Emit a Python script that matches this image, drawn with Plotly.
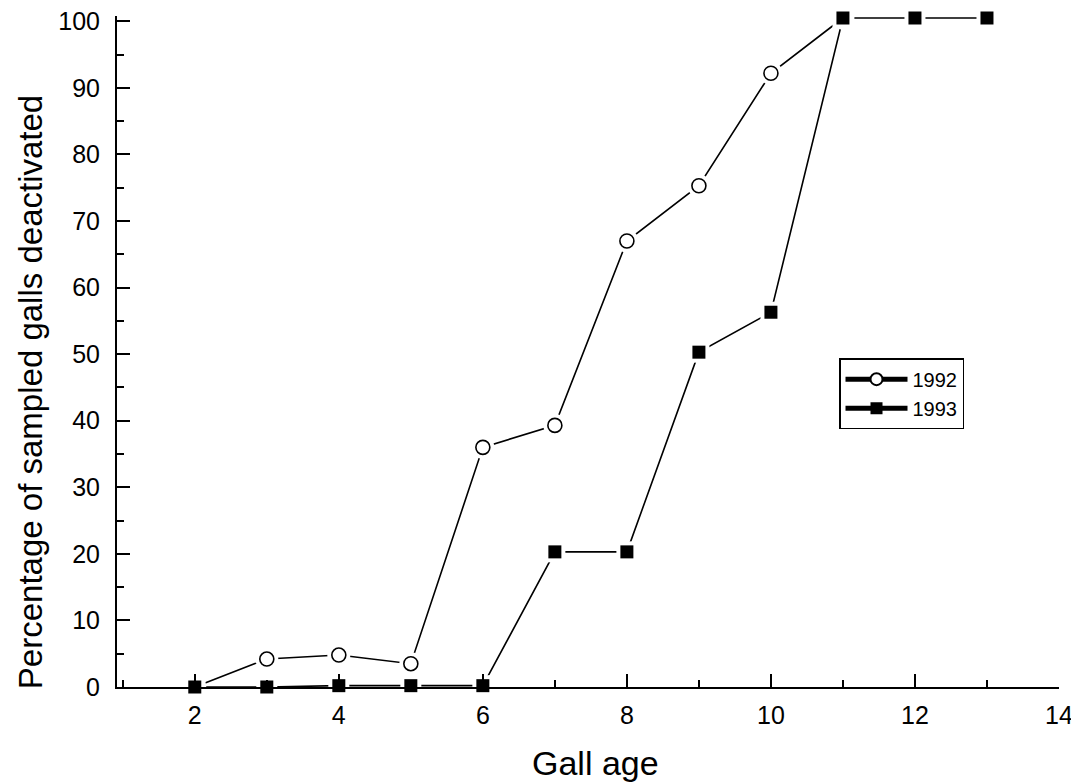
import plotly.graph_objects as go

gall_age = [2, 3, 4, 5, 6, 7, 8, 9, 10, 11]
pct_1992 = [0, 4.2, 4.8, 3.5, 36, 39.3, 67, 75.3, 92.2, 100.5]
gall_age_1993 = [2, 3, 4, 5, 6, 7, 8, 9, 10, 11, 12, 13]
pct_1993 = [0, 0, 0.2, 0.2, 0.2, 20.3, 20.3, 50.3, 56.3, 100.5, 100.5, 100.5]
x_ticks = [2, 4, 6, 8, 10, 12, 14]
y_ticks = [0, 10, 20, 30, 40, 50, 60, 70, 80, 90, 100]

FONT = "Liberation Sans, Arial, sans-serif"
OFF = 8  # default page body margin
W, H = 1079 - OFF, 784 - OFF
Y_TOP = 100.8
PX_PER_Y = 6.66
PH = PX_PER_Y * Y_TOP           # plot height in px
PLOT_LEFT, PLOT_RIGHT, PLOT_BOTTOM = 117, 1059, 687  # page pixels
PLOT_TOP = PLOT_BOTTOM - PH
ML = PLOT_LEFT - OFF
MR = 1079 - PLOT_RIGHT
MT = PLOT_TOP - OFF
MB = 784 - PLOT_BOTTOM
PW = PLOT_RIGHT - PLOT_LEFT


def px_x(px):
    return (px - PLOT_LEFT) / PW


def px_y(py):
    return (PLOT_BOTTOM - py) / PH


fig = go.Figure()

# connecting lines
fig.add_trace(go.Scatter(x=gall_age, y=pct_1992, mode="lines", showlegend=False,
                         line=dict(color="black", width=1.6), hoverinfo="skip"))
fig.add_trace(go.Scatter(x=gall_age_1993, y=pct_1993, mode="lines", showlegend=False,
                         line=dict(color="black", width=1.6), hoverinfo="skip"))

# 1992 halo + markers
fig.add_trace(go.Scatter(x=gall_age, y=pct_1992, mode="markers", showlegend=False, hoverinfo="skip",
                         marker=dict(symbol="circle", size=23, color="white", line=dict(width=0)),
                         cliponaxis=False))
fig.add_trace(go.Scatter(x=gall_age, y=pct_1992, mode="markers", showlegend=False,
                         marker=dict(symbol="circle", size=14, color="white",
                                     line=dict(color="black", width=1.6)),
                         cliponaxis=False))
# 1993 halo + markers
fig.add_trace(go.Scatter(x=gall_age_1993, y=pct_1993, mode="markers", showlegend=False, hoverinfo="skip",
                         marker=dict(symbol="square", size=21, color="white", line=dict(width=0)),
                         cliponaxis=False))
fig.add_trace(go.Scatter(x=gall_age_1993, y=pct_1993, mode="markers", showlegend=False,
                         marker=dict(symbol="square", size=13, color="black",
                                     line=dict(color="black", width=0)),
                         cliponaxis=False))

# legend entries
fig.add_trace(go.Scatter(x=[None], y=[None], mode="lines+markers", name="1992",
                         line=dict(color="black", width=1),
                         marker=dict(symbol="circle", size=13, color="white",
                                     line=dict(color="black", width=1.5))))
fig.add_trace(go.Scatter(x=[None], y=[None], mode="lines+markers", name="1993",
                         line=dict(color="black", width=1),
                         marker=dict(symbol="square", size=11, color="black")))

fig.update_layout(
    width=W, height=H,
    margin=dict(l=ML, r=MR, t=MT, b=MB, autoexpand=False),
    paper_bgcolor="white", plot_bgcolor="white",
    font=dict(family=FONT, color="black", size=25),
    showlegend=True,
    legend=dict(x=px_x(839), y=px_y(358), xanchor="left", yanchor="top",
                bordercolor="black", borderwidth=1.5, bgcolor="white",
                font=dict(size=20, family=FONT), itemwidth=62,
                tracegroupgap=0, itemsizing="constant"),
    xaxis=dict(range=[0.92, 14], tickmode="array", tickvals=x_ticks,
               ticktext=[str(v) for v in x_ticks],
               showline=True, linecolor="black", linewidth=2,
               ticks="inside", ticklen=13, tickwidth=2, tickcolor="black",
               minor=dict(dtick=1, tick0=1, ticks="inside", ticklen=7, tickwidth=2, tickcolor="black"),
               showgrid=False, zeroline=False, layer="above traces",
               tickfont=dict(size=25, family=FONT), ticklabelstandoff=5,
               ticklabeloverflow="allow"),
    yaxis=dict(range=[0, Y_TOP], tickmode="array", tickvals=y_ticks,
               ticktext=[str(v) for v in y_ticks],
               showline=True, linecolor="black", linewidth=2,
               ticks="inside", ticklen=13, tickwidth=2, tickcolor="black",
               minor=dict(dtick=5, tick0=0, ticks="inside", ticklen=7, tickwidth=2, tickcolor="black"),
               showgrid=False, zeroline=False, layer="above traces",
               tickfont=dict(size=25, family=FONT), ticklabelstandoff=10,
               ticklabeloverflow="allow"),
    annotations=[
        dict(text="Gall age", xref="paper", yref="paper",
             x=px_x(595), y=px_y(763), xanchor="center", yanchor="middle",
             showarrow=False, font=dict(size=34, family=FONT)),
        dict(text="Percentage of sampled galls deactivated", xref="paper", yref="paper",
             x=px_x(30), y=px_y(392), xanchor="center", yanchor="middle",
             textangle=-90, showarrow=False, font=dict(size=33, family=FONT)),
    ],
)

fig.write_html("out.html")
